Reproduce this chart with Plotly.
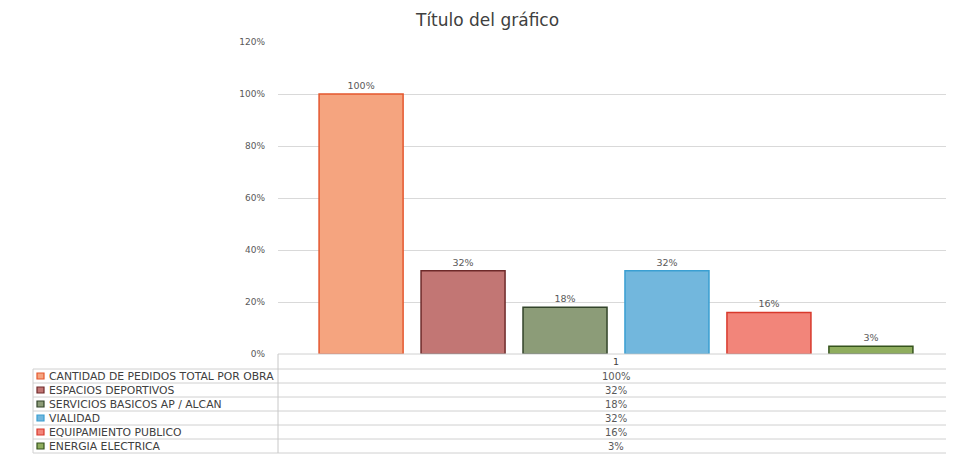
import plotly.graph_objects as go

# page body has an 8px margin; figure is sized so it fills the 954x456 window
OFF = 8
W, H = 954 - OFF, 456 - OFF

categories = ["1"]
series_names = [
    "CANTIDAD DE PEDIDOS TOTAL POR OBRA",
    "ESPACIOS DEPORTIVOS",
    "SERVICIOS BASICOS AP / ALCAN",
    "VIALIDAD",
    "EQUIPAMIENTO PUBLICO",
    "ENERGIA ELECTRICA",
]
series_values = [1.00, 0.32, 0.18, 0.32, 0.16, 0.03]
value_labels = ["100%", "32%", "18%", "32%", "16%", "3%"]
y_ticks = [0, 0.2, 0.4, 0.6, 0.8, 1.0, 1.2]
y_tick_labels = ["0%", "20%", "40%", "60%", "80%", "100%", "120%"]

fill_colors = ["#F5A47F", "#C27674", "#8C9C78", "#72B7DD", "#F2857A", "#8FAD5E"]
line_colors = ["#E4572E", "#6E2A2A", "#33442A", "#3A9FD2", "#D8392C", "#35531C"]

FONT = "DejaVu Sans"
TXT = "#595959"

# layout geometry in window pixels
px_left, px_right = 278, 954
px_top, px_bottom = 42, 354
tbl_left = 33
row_edges = [354, 369, 383, 397, 411, 425, 439, 453]


def fx(px):
    return (px - OFF) / W


def fy(py):
    return 1 - (py - OFF) / H


fig = go.Figure()
for name, v, lab, fc, lc in zip(series_names, series_values, value_labels, fill_colors, line_colors):
    fig.add_trace(go.Bar(
        x=categories, y=[v], name=name, text=[lab], textposition="outside",
        textfont=dict(family=FONT, size=9.5, color=TXT),
        marker=dict(color=fc, line=dict(color=lc, width=1.5)),
        cliponaxis=False, showlegend=False,
    ))

shapes = []
annotations = []

for i, ypx in enumerate(row_edges):
    x0 = px_left if i == 0 else tbl_left
    shapes.append(dict(type="line", xref="paper", yref="paper",
                       x0=fx(x0), x1=fx(px_right), y0=fy(ypx), y1=fy(ypx),
                       line=dict(color="#D0D0D0", width=1)))
shapes.append(dict(type="line", xref="paper", yref="paper",
                   x0=fx(px_left), x1=fx(px_left), y0=fy(row_edges[0]), y1=fy(row_edges[-1]),
                   line=dict(color="#C8C8C8", width=1)))
shapes.append(dict(type="line", xref="paper", yref="paper",
                   x0=fx(tbl_left), x1=fx(tbl_left), y0=fy(row_edges[1]), y1=fy(row_edges[-1]),
                   line=dict(color="#D0D0D0", width=1)))

cx = (px_left + px_right) / 2
annotations.append(dict(xref="paper", yref="paper", x=fx(cx), xanchor="center", yanchor="middle",
                        y=fy((row_edges[0] + row_edges[1]) / 2), text=categories[0],
                        showarrow=False, font=dict(family=FONT, size=9.5, color="#404040")))

for i, (name, lab, fc, lc) in enumerate(zip(series_names, value_labels, fill_colors, line_colors)):
    y0, y1 = row_edges[i + 1], row_edges[i + 2]
    yc = (y0 + y1) / 2
    shapes.append(dict(type="rect", xref="paper", yref="paper",
                       x0=fx(37), x1=fx(44), y0=fy(yc + 3), y1=fy(yc - 3),
                       fillcolor=fc, line=dict(color=lc, width=1.2)))
    annotations.append(dict(xref="paper", yref="paper", x=fx(47), y=fy(yc),
                            xanchor="left", yanchor="middle", text=name, showarrow=False,
                            font=dict(family=FONT, size=10.8, color="#404040")))
    annotations.append(dict(xref="paper", yref="paper", x=fx(cx), y=fy(yc),
                            xanchor="center", yanchor="middle",
                            text=lab, showarrow=False,
                            font=dict(family=FONT, size=10, color=TXT)))

annotations.append(dict(xref="paper", yref="paper", x=fx(487), y=fy(20),
                        xanchor="center", yanchor="middle",
                        text="Título del gráfico", showarrow=False,
                        font=dict(family=FONT, size=17, color="#404040")))

fig.update_layout(
    width=W, height=H,
    margin=dict(l=0, r=0, t=0, b=0, autoexpand=False),
    paper_bgcolor="white", plot_bgcolor="white",
    barmode="group", bargap=0.095, bargroupgap=0.176,
    shapes=shapes, annotations=annotations,
    xaxis=dict(domain=[fx(px_left), fx(px_right)], showticklabels=False, showgrid=False,
               zeroline=False, showline=False, automargin=False),
    yaxis=dict(domain=[fy(px_bottom), fy(px_top)], range=[0, 1.2],
               tickvals=y_ticks, ticktext=y_tick_labels, automargin=False,
               tickfont=dict(family=FONT, size=9, color=TXT),
               showgrid=True, gridcolor="#D9D9D9", gridwidth=1,
               zeroline=False, showline=False, ticklabelstandoff=12),
)

fig.write_html("out.html")
